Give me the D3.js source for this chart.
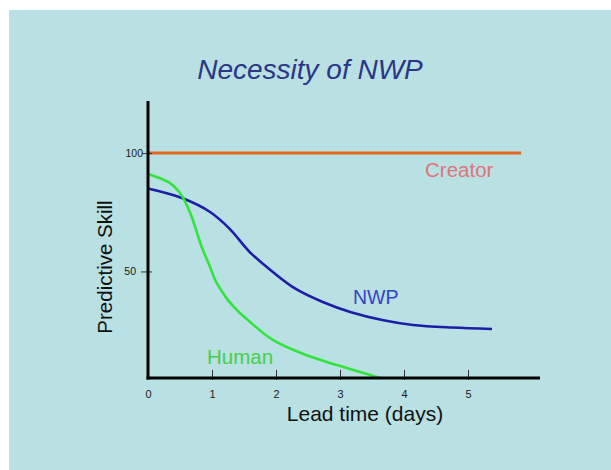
<!DOCTYPE html>
<html>
<head>
<meta charset="utf-8">
<script src="https://cdn.jsdelivr.net/npm/d3@7/dist/d3.min.js"></script>
<style>
html,body{margin:0;padding:0;background:#fff;}
svg{display:block;}
text{font-family:"Liberation Sans",Arial,sans-serif;}
</style>
</head>
<body>
<svg id="chart" width="611" height="470"></svg>
<script>
// ---- data ----
const xTicks = [0, 1, 2, 3, 4, 5];
const yTicks = [50, 100];
const nwpX = [0, 0.55, 0.97, 1.28, 1.59, 1.95, 2.31, 2.73, 3.16, 3.66, 4.14, 4.75, 5.375];
const nwpY = [85.0, 80.8, 75.1, 67.9, 58.2, 49.8, 42.6, 37.1, 32.9, 29.5, 27.4, 26.3, 25.7];
const humanX = [0, 0.34, 0.5, 0.66, 0.84, 0.97, 1.05, 1.14, 1.25, 1.39, 1.56, 1.95, 2.47, 2.95, 3.63];
const humanY = [91.2, 87.4, 83.1, 74.7, 60.3, 51.9, 46.4, 42.2, 37.9, 33.7, 29.5, 21.1, 14.7, 10.5, 5.0];
const creatorX = [0, 5.83];
const creatorY = [100, 100];
const seriesNames = ["Creator", "NWP", "Human"];

const svg = d3.select("#chart");
// panel background
svg.append("rect").attr("x", 9).attr("y", 10).attr("width", 602).attr("height", 460).attr("fill", "#b9e0e3");

const x = d3.scaleLinear().domain([0, 6.125]).range([148, 540]);
const y = d3.scaleLinear().domain([5, 122]).range([378, 101]);

// title
svg.append("text").attr("x", 310).attr("y", 79).attr("text-anchor", "middle")
  .attr("font-size", 28).attr("font-style", "italic").attr("fill", "#2b3687")
  .text("Necessity of NWP");

const line = d3.line().x(d => x(d[0])).y(d => y(d[1])).curve(d3.curveCatmullRom.alpha(0.5));
const zip = (a, b) => a.map((v, i) => [v, b[i]]);

// Creator line
svg.append("path").datum(zip(creatorX, creatorY)).attr("d", line)
  .attr("fill", "none").attr("stroke", "#e0691f").attr("stroke-width", 3);

// NWP
svg.append("path").datum(zip(nwpX, nwpY)).attr("d", line)
  .attr("fill", "none").attr("stroke", "#1c1ea6").attr("stroke-width", 2.6);

// Human
svg.append("path").datum(zip(humanX, humanY)).attr("d", line)
  .attr("fill", "none").attr("stroke", "#2fe43a").attr("stroke-width", 2.6);

// axes
const xAxis = d3.axisBottom(x).tickValues(xTicks).tickSize(0).tickFormat(d3.format("d"));
const gx = svg.append("g").attr("transform", `translate(0,${y(5)})`).call(xAxis);
gx.select(".domain").remove();
gx.selectAll(".tick text").attr("font-size", 11).attr("fill", "#1a1a1a").attr("dy", "1.5em")
  .style("font-family", "'Liberation Sans',Arial,sans-serif");
gx.selectAll(".tick").filter(d => d !== 0).append("line")
  .attr("y1", -8).attr("y2", 2).attr("stroke", "#333").attr("stroke-width", 1);

const yAxis = d3.axisLeft(y).tickValues(yTicks).tickSize(0);
const gy = svg.append("g").attr("transform", `translate(${x(0)},0)`).call(yAxis);
gy.select(".domain").remove();
gy.selectAll(".tick text").attr("font-size", 10.5).attr("fill", "#1a1a1a")
  .attr("x", d => d === 100 ? -5 : -12)
  .style("font-family", "'Liberation Sans',Arial,sans-serif");
gy.selectAll(".tick").append("line")
  .attr("x1", d => d === 100 ? -6 : -7).attr("x2", 4).attr("stroke", "#333").attr("stroke-width", 1);

// axis lines
svg.append("line").attr("x1", x(0)).attr("x2", x(0)).attr("y1", y(122)).attr("y2", y(5) + 1.5)
  .attr("stroke", "#000").attr("stroke-width", 3);
svg.append("line").attr("x1", x(0) - 1.5).attr("x2", x(6.125)).attr("y1", y(5)).attr("y2", y(5))
  .attr("stroke", "#000").attr("stroke-width", 3);

// axis titles
svg.append("text").attr("x", 365).attr("y", 421).attr("text-anchor", "middle")
  .attr("font-size", 21).attr("fill", "#111").text("Lead time (days)");
svg.append("text").attr("transform", "translate(112,267) rotate(-90)").attr("text-anchor", "middle")
  .attr("font-size", 20.5).attr("fill", "#111").text("Predictive Skill");

// series labels
svg.append("text").attr("x", 425).attr("y", 177).attr("font-size", 20.5).attr("fill", "#e0747a").text(seriesNames[0]);
svg.append("text").attr("x", 353).attr("y", 304).attr("font-size", 19.5).attr("fill", "#3444c2").text(seriesNames[1]);
svg.append("text").attr("x", 207).attr("y", 364).attr("font-size", 20.5).attr("fill", "#45cf4a").text(seriesNames[2]);
</script>
</body>
</html>
